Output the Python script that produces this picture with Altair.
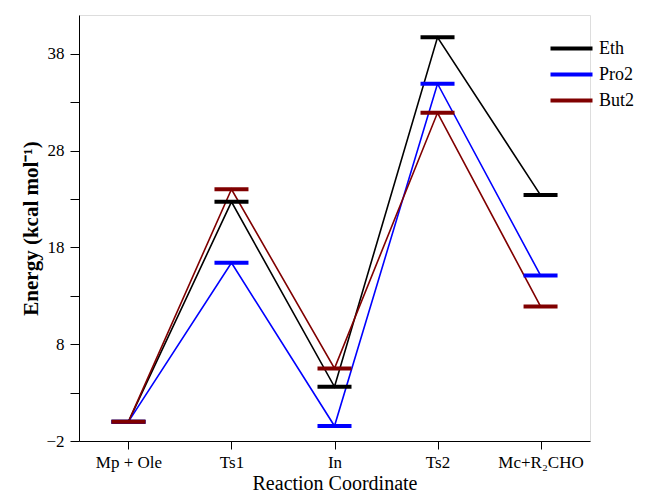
import altair as alt
import pandas as pd

categories = ["Mp + Ole", "Ts1", "In", "Ts2", "Mc+R\u2082CHO"]
series_names = ["Eth", "Pro2", "But2"]
eth = [0.0, 22.7, 3.6, 39.7, 23.4]
pro2 = [0.0, 16.4, -0.45, 34.9, 15.1]
but2 = [0.0, 24.0, 5.5, 31.9, 11.9]
colors = ["#000000", "#0000ff", "#800000"]

rows = []
for name, vals in zip(series_names, [eth, pro2, but2]):
    for i, (c, v) in enumerate(zip(categories, vals)):
        rows.append({"stage": c, "order": i, "series": name, "energy": v})
df = pd.DataFrame(rows)

FONT = "Liberation Serif"

x = alt.X("stage:N", sort=categories, scale=alt.Scale(type="point", padding=0.48),
          axis=alt.Axis(title="Reaction Coordinate", labelAngle=0, grid=False,
                        domainColor="#000", tickColor="#000", tickSize=8,
                        labelFont=FONT, labelFontSize=17, labelColor="#000",
                        labelPadding=5, titleFont=FONT, titleFontSize=20,
                        titleFontWeight="normal", titleColor="#000", titlePadding=3))
y = alt.Y("energy:Q", scale=alt.Scale(domain=[-2, 42], nice=False, zero=False),
          axis=alt.Axis(title="Energy  (kcal mol\u207b\u00b9)", values=[-2, 3, 8, 13, 18, 23, 28, 33, 38],
                        labelExpr="(datum.value + 2) % 10 == 0 ? datum.label : ''",
                        grid=False, domainColor="#000", tickColor="#000", tickSize=9,
                        labelFont=FONT, labelFontSize=17, labelColor="#000", labelPadding=6,
                        titleFont=FONT, titleFontSize=21, titleFontWeight="bold",
                        titleColor="#000", titlePadding=4))
color = alt.Color("series:N", scale=alt.Scale(domain=series_names, range=colors),
                  legend=alt.Legend(title=None, orient="none", legendX=480, legendY=21,
                                    symbolType="M-2,0H2", symbolSize=441, symbolStrokeWidth=4,
                                    symbolOpacity=1,
                                    labelFont=FONT, labelFontSize=18, labelColor="#000",
                                    rowPadding=4, labelOffset=15))

base = alt.Chart(df)
lines = base.mark_line(strokeWidth=1.6).encode(x=x, y=y, color=color, order="order:Q")
ticks = base.mark_tick(thickness=4, size=34, opacity=1).encode(x=x, y=y, color=color)

chart = (lines + ticks).properties(
    width=511, height=426,
    autosize=alt.AutoSizeParams(type="none"),
    padding={"left": 71, "top": 7, "right": 63, "bottom": 57},
).configure_view(stroke=None).configure(background="white")

chart.save("out.html", embed_options={"renderer": "svg", "actions": False})
